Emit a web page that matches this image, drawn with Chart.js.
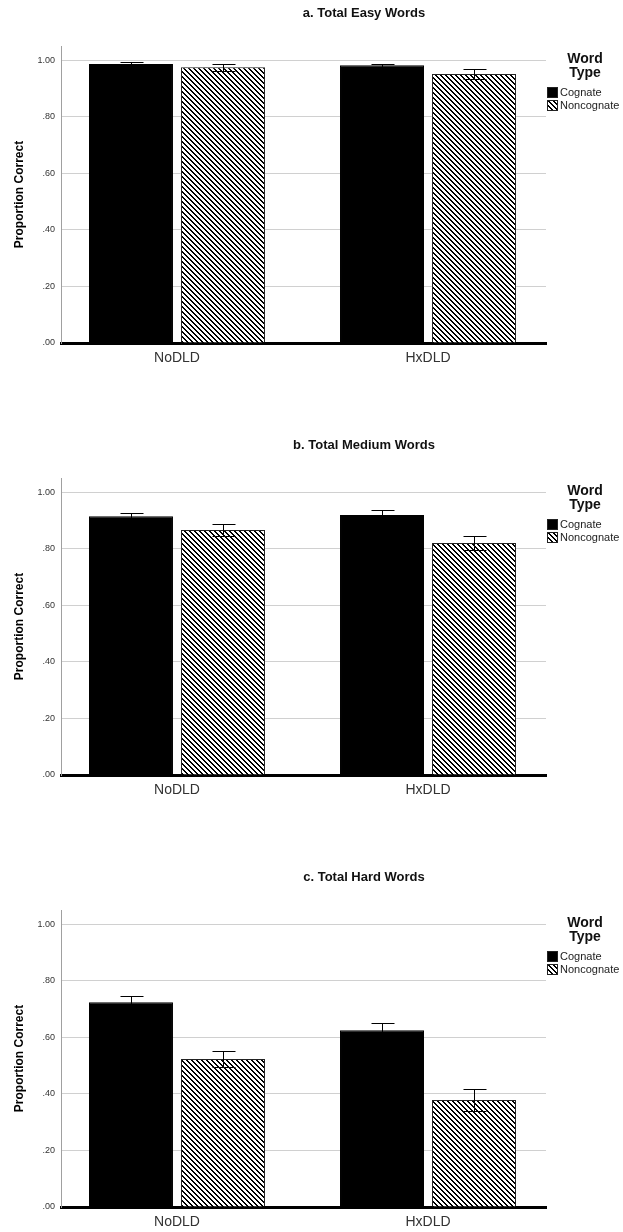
<!DOCTYPE html>
<html>
<head>
<meta charset="utf-8">
<script src="https://cdn.jsdelivr.net/npm/chart.js@4.4.1/dist/chart.umd.min.js"></script>
<style>
body{margin:0;background:#fff;width:623px;height:1232px;overflow:hidden;font-family:"Liberation Sans",Arial,sans-serif;color:#111}
.panel{position:relative;width:623px;height:432px}
.panel canvas{position:absolute;left:0;top:0}
.ttl{position:absolute;top:5px;left:264px;width:200px;text-align:center;font-weight:bold;font-size:13px;line-height:16px}
.hd{position:absolute;left:547px;width:76px;text-align:center;font-weight:bold;font-size:14px;line-height:14px}
.item{position:absolute;left:547px;font-size:11px;line-height:11px;white-space:nowrap;color:#222}
.item span{display:inline-block;width:9px;height:9px;border:1px solid #222;vertical-align:top;margin-right:2px}
</style>
</head>
<body>
<div id="wrap"></div>
<script>
const groups = ['NoDLD', 'HxDLD'];
const seriesNames = ['Cognate', 'Noncognate'];
const panelTitles = ['a. Total Easy Words', 'b. Total Medium Words', 'c. Total Hard Words'];
const yTicks = [0, 0.2, 0.4, 0.6, 0.8, 1.0];
const legendTitle = ['Word', 'Type'];

// means and error half-widths, per group [NoDLD, HxDLD]
const easyCog = [0.986, 0.982], easyCogErr = [0.006, 0.005];
const easyNon = [0.975, 0.951], easyNonErr = [0.013, 0.016];
const medCog = [0.915, 0.919], medCogErr = [0.011, 0.018];
const medNon = [0.866, 0.820], medNonErr = [0.021, 0.025];
const hardCog = [0.724, 0.625], hardCogErr = [0.021, 0.025];
const hardNon = [0.523, 0.378], hardNonErr = [0.028, 0.039];

Chart.defaults.font.family = "'Liberation Sans', Arial, sans-serif";

// diagonal hatch tile
const tile = document.createElement('canvas');
tile.width = 5; tile.height = 5;
const tctx = tile.getContext('2d');
tctx.fillStyle = '#fff'; tctx.fillRect(0,0,5,5);
tctx.fillStyle = '#000';
for(let x=0;x<5;x++) for(let y=0;y<5;y++){
  if(((x-y)%5+5)%5<2) tctx.fillRect(x,y,1,1);
}
const hatchUrl = tile.toDataURL();

const errorBars = {
  id:'errorBars',
  afterDatasetsDraw(chart){
    const ctx = chart.ctx, ys = chart.scales.y;
    chart.data.datasets.forEach((ds,i)=>{
      chart.getDatasetMeta(i).data.forEach((bar,j)=>{
        const v = ds.data[j].y, e = ds.errors[j];
        const t = Math.round(ys.getPixelForValue(v+e))+0.5;
        const b = Math.round(ys.getPixelForValue(v-e))+0.5;
        const x = Math.round(bar.x)+0.5;
        ctx.save();
        ctx.strokeStyle = '#000'; ctx.lineWidth = 1;
        ctx.beginPath();
        ctx.moveTo(x,t); ctx.lineTo(x,b);
        ctx.moveTo(x-11,t); ctx.lineTo(x+12,t);
        ctx.moveTo(x-11,b); ctx.lineTo(x+12,b);
        ctx.stroke();
        ctx.restore();
      });
    });
  }
};

const panels = [
  {title: panelTitles[0], vals: [easyCog, easyNon], errs: [easyCogErr, easyNonErr]},
  {title: panelTitles[1], vals: [medCog, medNon], errs: [medCogErr, medNonErr]},
  {title: panelTitles[2], vals: [hardCog, hardNon], errs: [hardCogErr, hardNonErr]}
];

const wrap = document.getElementById('wrap');
panels.forEach(p=>{
  const div = document.createElement('div');
  div.className = 'panel';
  const cv = document.createElement('canvas');
  cv.width = 623; cv.height = 432;
  div.appendChild(cv);
  const t = document.createElement('div');
  t.className = 'ttl'; t.textContent = p.title;
  div.appendChild(t);
  legendTitle.forEach((w,k)=>{
    const h = document.createElement('div');
    h.className = 'hd'; h.style.top = (51 + k*14) + 'px'; h.textContent = w;
    div.appendChild(h);
  });
  seriesNames.forEach((s,k)=>{
    const it = document.createElement('div');
    it.className = 'item'; it.style.top = (87 + k*13) + 'px';
    const sw = document.createElement('span');
    if(k===0) sw.style.background = '#000';
    else sw.style.backgroundImage = 'url(' + hatchUrl + ')';
    it.appendChild(sw);
    it.appendChild(document.createTextNode(s));
    div.appendChild(it);
  });
  wrap.appendChild(div);

  const pattern = cv.getContext('2d').createPattern(tile, 'repeat');
  new Chart(cv, {
    type:'bar',
    data:{
      datasets: seriesNames.map((s,k)=>({
        label: s,
        data: p.vals[k].map((v,i)=>({x:i, y:v})),
        errors: p.errs[k],
        backgroundColor: k===0 ? '#000' : pattern,
        borderColor: k===0 ? '#000' : '#222',
        borderWidth: 1,
        categoryPercentage: 0.733,
        barPercentage: 0.913
      }))
    },
    options:{
      responsive:false,
      animation:false,
      layout:{padding:{left:0, right:77, top:46, bottom:0}},
      plugins:{legend:{display:false}, tooltip:{enabled:false}},
      scales:{
        x:{
          type:'linear', offset:false, min:-0.462, max:1.470,
          afterBuildTicks: s => { s.ticks = groups.map((g,i)=>({value:i})); },
          afterFit: s => { s.height = 89; },
          grid:{display:false, drawTicks:false, offset:false},
          border:{display:true, color:'#000', width:3},
          ticks:{callback: v => groups[v], font:{size:14}, color:'#333', padding:7, maxRotation:0}
        },
        y:{
          min:0, max:1.05,
          afterBuildTicks: s => { s.ticks = yTicks.map(v=>({value:v})); },
          afterFit: s => { s.width = 61; },
          grid:{color:'#d0d0d0', drawTicks:false},
          border:{color:'#a0a0a0', width:1},
          ticks:{callback: v => v.toFixed(2).replace(/^0/, ''), font:{size:9}, color:'#333', padding:6},
          title:{display:true, text:'Proportion Correct', font:{size:12, weight:'bold'}, color:'#000', padding:{top:12, bottom:0}}
        }
      }
    },
    plugins:[errorBars]
  });
});
</script>
</body>
</html>
